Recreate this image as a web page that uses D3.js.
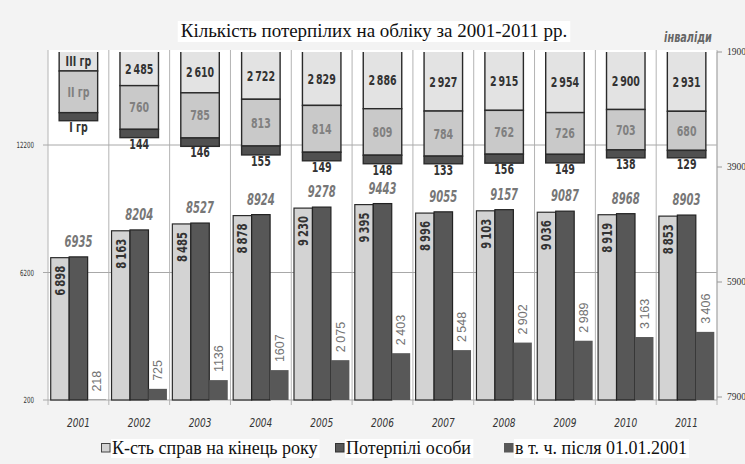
<!DOCTYPE html>
<html>
<head>
<meta charset="utf-8">
<script src="https://cdn.jsdelivr.net/npm/d3@7"></script>
<style>
  html, body { margin: 0; padding: 0; background: #f3f3f3; }
  svg { display: block; }
  .narrow { font-family: "Liberation Sans Narrow", "DejaVu Sans Condensed", "Liberation Sans", sans-serif; font-stretch: condensed; }
  .serif { font-family: "Liberation Serif", "DejaVu Serif", serif; }
</style>
</head>
<body>
<svg id="chart" width="745" height="464"></svg>
<script>
// Years on the category axis
const years = ["2001","2002","2003","2004","2005","2006","2007","2008","2009","2010","2011"];

// Main series (left axis)
const casesEndOfYear = [6898, 8163, 8485, 8878, 9230, 9395, 8996, 9103, 9036, 8919, 8853];
const victims        = [6935, 8204, 8527, 8924, 9278, 9443, 9055, 9157, 9087, 8968, 8903];
const victimsAfter2001 = [218, 725, 1136, 1607, 2075, 2403, 2548, 2902, 2989, 3163, 3406];

// Disability groups (right, reversed axis), stacked III -> II -> I
const groupIII = [2230, 2485, 2610, 2722, 2829, 2886, 2927, 2915, 2954, 2900, 2931];
const groupII  = [725, 760, 785, 813, 814, 809, 784, 762, 726, 703, 680];
const groupI   = [140, 144, 146, 155, 149, 148, 133, 156, 149, 138, 129];

const leftTicks = [200, 6200, 12200];
const rightTicks = [1900, 3900, 5900, 7900];
const legendLabels = ["К-сть справ на кінець року", "Потерпілі особи", "в т. ч. після 01.01.2001"];
const groupNames = ["III гр", "II гр", "I гр"];

const svg = d3.select("#chart");
const plot = { left: 48, right: 717, top: 50, bottom: 400 };

const x = d3.scaleBand().domain(years).range([plot.left, plot.right]).paddingInner(0).paddingOuter(0);
const xSeries = d3.scaleBand().domain([0, 1, 2]).range([0, x.bandwidth()]).paddingInner(0).paddingOuter(0.147);
const yLeft = d3.scaleLinear().domain([200, 12200]).range([400, 145]);
const yRight = d3.scaleLinear().domain([1900, 7900]).range([52, 397]);

const spaced = d3.formatLocale({ decimal: ",", thousands: "\u2009", grouping: [3], currency: ["", ""] }).format(",d");

// Horizontally squeezed text (narrow face look)
const SX = 0.78;
function narrow(parent, px, py, str, o = {}) {
  const rot = o.rotate ? ` rotate(${o.rotate})` : "";
  return parent.append("text")
    .attr("class", "narrow")
    .attr("transform", `translate(${px},${py})${rot} scale(${o.sx || SX},1)`)
    .attr("text-anchor", o.anchor || "middle")
    .attr("font-size", o.size || 12)
    .attr("font-weight", o.weight || "normal")
    .attr("font-style", o.style || "normal")
    .attr("fill", o.fill || "#333")
    .text(str);
}

// Plot background
svg.append("rect").attr("x", plot.left).attr("y", plot.top)
  .attr("width", plot.right - plot.left).attr("height", plot.bottom - plot.top)
  .attr("fill", "#ffffff");

// Vertical grid lines at category boundaries
const bounds = years.map(y => x(y)).concat([plot.right]);
svg.append("g").selectAll("line").data(bounds).join("line")
  .attr("x1", d => d).attr("x2", d => d)
  .attr("y1", plot.top).attr("y2", plot.bottom + 5)
  .attr("stroke", "#b4b4b4").attr("stroke-width", 1);

// Horizontal grid lines from the left axis
svg.append("g").selectAll("line").data(leftTicks).join("line")
  .attr("x1", plot.left - 5).attr("x2", plot.right)
  .attr("y1", d => yLeft(d)).attr("y2", d => yLeft(d))
  .attr("stroke", "#a8a8a8").attr("stroke-width", 1);

// Left axis labels
const leftG = svg.append("g");
leftTicks.forEach(t => narrow(leftG, 34, yLeft(t) + 3, t, { anchor: "end", size: 8.5, sx: 0.72 }));

// Right axis: line, ticks, labels
svg.append("line").attr("x1", plot.right).attr("x2", plot.right)
  .attr("y1", yRight(1900)).attr("y2", plot.bottom)
  .attr("stroke", "#b4b4b4");
svg.append("g").selectAll("line").data(rightTicks).join("line")
  .attr("x1", plot.right).attr("x2", plot.right + 5)
  .attr("y1", d => yRight(d)).attr("y2", d => yRight(d))
  .attr("stroke", "#999");
svg.append("g").selectAll("text").data(rightTicks).join("text")
  .attr("class", "serif")
  .attr("x", 727).attr("y", d => yRight(d) + 3)
  .attr("font-size", 9.5).attr("fill", "#333")
  .text(d => d);

// Disability group boxes on the reversed right axis, clipped at its top
svg.append("clipPath").attr("id", "topclip").append("rect")
  .attr("x", plot.left).attr("y", yRight(1900))
  .attr("width", plot.right - plot.left).attr("height", plot.bottom - yRight(1900));

const boxW = 38.5;
const stackRows = years.map((yr, i) => {
  const s1 = groupIII[i], s2 = s1 + groupII[i], s3 = s2 + groupI[i];
  return { yr, i, segs: [
    { k: 0, a: 0, b: s1, v: groupIII[i] },
    { k: 1, a: s1, b: s2, v: groupII[i] },
    { k: 2, a: s2, b: s3, v: groupI[i] }
  ]};
});
const segFill = ["#e3e3e3", "#c9c9c9", "#505050"];
const boxes = svg.append("g").attr("clip-path", "url(#topclip)");
stackRows.forEach(row => {
  const cx = x(row.yr) + x.bandwidth() / 2;
  boxes.selectAll(null).data(row.segs).join("rect")
    .attr("x", cx - boxW / 2).attr("width", boxW)
    .attr("y", d => yRight(d.a)).attr("height", d => yRight(d.b) - yRight(d.a))
    .attr("fill", d => segFill[d.k]).attr("stroke", "#2a2a2a").attr("stroke-width", 1.4);
});

// Box labels
const boxLabels = svg.append("g");
stackRows.forEach(row => {
  const cx = x(row.yr) + x.bandwidth() / 2;
  const first = row.i === 0;
  const s = row.segs;
  const topVis = yRight(1900);
  const y3 = (Math.max(yRight(s[0].a), topVis) + yRight(s[0].b)) / 2;
  const y2 = (yRight(s[1].a) + yRight(s[1].b)) / 2;
  const yb = yRight(s[2].b);
  narrow(boxLabels, cx, y3 + 5, first ? groupNames[0] : spaced(s[0].v), { size: 13.5, weight: "bold", fill: "#333" });
  narrow(boxLabels, cx, y2 + 5, first ? groupNames[1] : s[1].v, { size: 13.5, weight: "bold", fill: "#808080" });
  narrow(boxLabels, cx, yb + 11, first ? groupNames[2] : s[2].v, { size: 13.5, weight: "bold", fill: "#333" });
});

// Main bars
const series = [casesEndOfYear, victims, victimsAfter2001];
const barFill = ["#d3d3d3", "#575757", "#585858"];
const barStroke = ["#2a2a2a", "#222222", "none"];
series.forEach((vals, si) => {
  svg.append("g").selectAll("rect").data(vals).join("rect")
    .attr("x", (d, i) => x(years[i]) + xSeries(si))
    .attr("width", xSeries.bandwidth())
    .attr("y", d => yLeft(d))
    .attr("height", d => yLeft(200) - yLeft(d))
    .attr("fill", barFill[si])
    .attr("stroke", barStroke[si]).attr("stroke-width", 1.2);
});

// Labels inside the first series (rotated)
const l1 = svg.append("g");
casesEndOfYear.forEach((d, i) => {
  const cx = x(years[i]) + xSeries(0) + xSeries.bandwidth() / 2 + 5;
  narrow(l1, cx, yLeft(d) + 8, spaced(d), { rotate: -90, anchor: "end", size: 14, weight: "bold", fill: "#333", sx: 0.8 });
});

// Labels above the second series, centred on the category
const l2 = svg.append("g");
victims.forEach((d, i) => {
  narrow(l2, x(years[i]) + x.bandwidth() / 2, yLeft(d) - 10, d, { size: 15.5, weight: "bold", style: "italic", fill: "#777", sx: 0.72 });
});

// Labels above the third series (rotated, on white)
const l3 = svg.append("g");
victimsAfter2001.forEach((d, i) => {
  const cx = x(years[i]) + xSeries(2) + xSeries.bandwidth() / 2;
  const t = d >= 2000 ? spaced(d) : String(d);
  const g = l3.append("g").attr("transform", `translate(${cx + 4.5},${yLeft(d) - 8}) rotate(-90)`);
  const txt = g.append("text").attr("font-family", "Liberation Sans, Arial, sans-serif")
    .attr("font-size", 12.5).attr("fill", "#727272").text(t);
  const w = txt.node().getComputedTextLength();
  g.insert("rect", "text").attr("x", -2).attr("y", -12).attr("width", w + 4).attr("height", 15).attr("fill", "#fff");
});

// Category labels
const cats = svg.append("g");
years.forEach(yr => narrow(cats, x(yr) + x.bandwidth() / 2, 427, yr, { size: 12.5, style: "italic", fill: "#333", sx: 0.8 }));

// Title
const title = svg.append("g");
const tt = title.append("text").attr("class", "serif")
  .attr("x", 374).attr("y", 37).attr("text-anchor", "middle")
  .attr("font-size", 19).attr("fill", "#111")
  .text("Кількість потерпілих на обліку за 2001-2011 рр.");
const tb = tt.node().getBBox();
title.insert("rect", "text").attr("x", tb.x - 3).attr("y", tb.y + 1).attr("width", tb.width + 6).attr("height", tb.height).attr("fill", "#fff");

// Secondary axis caption
narrow(svg, 688, 42, "інваліди", { size: 13.5, weight: "bold", style: "italic", fill: "#666", sx: 0.8 });

// Legend
const legendX = [100, 334, 503];
const legendFill = ["#d3d3d3", "#575757", "#585858"];
const legendStroke = ["#444", "#333", "#585858"];
legendLabels.forEach((lab, i) => {
  const g = svg.append("g").attr("transform", `translate(${legendX[i]},0)`);
  const t = g.append("text").attr("class", "serif").attr("x", 12).attr("y", 454)
    .attr("font-size", 18).attr("fill", "#111").text(lab);
  const b = t.node().getBBox();
  g.insert("rect", "text").attr("x", b.x - 1).attr("y", b.y + 1).attr("width", b.width + 3).attr("height", b.height - 1).attr("fill", "#fff");
  g.append("rect").attr("x", 1.5).attr("y", 443.5).attr("width", 8.5).attr("height", 8.5)
    .attr("fill", legendFill[i]).attr("stroke", legendStroke[i]).attr("stroke-width", 1);
});
</script>
</body>
</html>
